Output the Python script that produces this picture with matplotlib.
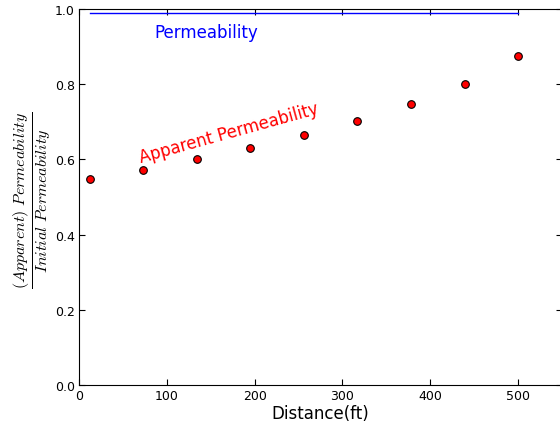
import matplotlib
matplotlib.use("Agg")
import matplotlib.pyplot as plt

# Measured ratio of apparent to initial permeability along the core
distance_ft = [12, 73, 134, 195, 256, 317, 378, 439, 500]
perm_ratio = [0.548, 0.572, 0.601, 0.630, 0.665, 0.702, 0.747, 0.800, 0.875]

# Reference (initial) permeability line
ref_x = [12, 500]
ref_y = [0.99, 0.99]

x_ticks = [0, 100, 200, 300, 400, 500]
y_ticks = [0.0, 0.2, 0.4, 0.6, 0.8, 1.0]

plt.rcParams['mathtext.fontset'] = 'cm'

fig = plt.figure(figsize=(5.6, 4.27), dpi=100)
ax = fig.add_axes([79 / 560, 41 / 427, 483 / 560, 376 / 427])

ax.plot(ref_x, ref_y, color='blue', lw=1)
ax.plot(distance_ft, perm_ratio, 'o', color='red', mec='black',
        mew=0.8, ms=5.5, ls='none')

ax.text(86, 0.94, 'Permeability', color='blue', fontsize=12,
        ha='left', va='center')
ax.text(72, 0.582, 'Apparent Permeability', color='red', fontsize=12,
        rotation=15.5, ha='left', va='bottom', rotation_mode='anchor')

ax.set_xlim(0, 550)
ax.set_ylim(0, 1.0)
ax.set_xticks(x_ticks)
ax.set_yticks(y_ticks)
ax.set_yticklabels([f'{v:.1f}' for v in y_ticks])
ax.tick_params(direction='in', top=True, right=True, length=4,
               labelsize=9, pad=3)

ax.set_xlabel('Distance(ft)', fontsize=12, labelpad=1)
ax.set_ylabel(r'$\frac{(Apparent)\ Permeability}{Initial\ Permeability}$',
              fontsize=16.5, va='center', ha='center')
ax.yaxis.set_label_coords(-0.098, 0.495)

fig.savefig('out.png', dpi=100)
